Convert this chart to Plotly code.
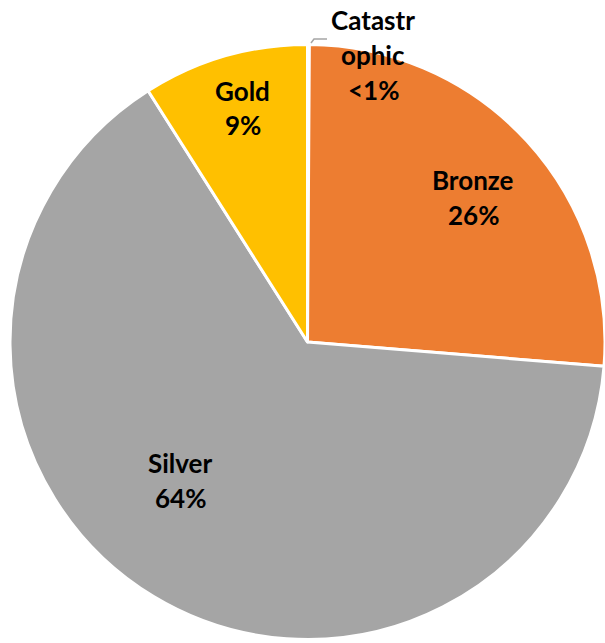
import plotly.graph_objects as go

# Data
categories = ["Catastrophic", "Bronze", "Silver", "Gold"]
values = [0.1, 26.2, 64.7, 9.0]
label_texts = ["Catastr<br>ophic<br><1%", "Bronze<br>26%", "Silver<br>64%", "Gold<br>9%"]
colors = ["#4472C4", "#ED7D31", "#A5A5A5", "#FFC000"]

W, H = 605, 643
cx, cy, r = 307.5, 342, 297.5

fig = go.Figure(go.Pie(
    labels=categories,
    values=values,
    sort=False,
    direction="clockwise",
    rotation=0,
    marker=dict(colors=colors, line=dict(color="white", width=3)),
    textinfo="none",
    hoverinfo="label+percent",
    showlegend=False,
    domain=dict(x=[(cx - r) / W, (cx + r) / W], y=[(H - cy - r) / H, (H - cy + r) / H]),
))

# label placement (pixel centres of the text blocks), one annotation per line
label_pos = [(373, 55), (473, 197), (180, 480), (243, 108)]
line_gap = 35
for txt, (px, py) in zip(label_texts, label_pos):
    lines = txt.split("<br>")
    n = len(lines)
    for i, ln in enumerate(lines):
        ly = py + (i - (n - 1) / 2) * line_gap
        fig.add_annotation(
            x=px / W, y=1 - ly / H, xref="paper", yref="paper",
            text=f"<b>{ln}</b>", showarrow=False,
            xanchor="center", yanchor="middle", align="center",
            font=dict(family="Lato", size=26, color="black"),
        )

# leader line for the tiny slice
fig.add_shape(
    type="path", xref="paper", yref="paper",
    path=f"M {311/W} {1-43/H} L {314/W} {1-39/H} L {327/W} {1-39/H}",
    line=dict(color="#A5A5A5", width=1.5),
)

fig.update_layout(
    width=W, height=H,
    margin=dict(l=0, r=0, t=0, b=0),
    paper_bgcolor="white", plot_bgcolor="white",
)

fig.write_html("out.html")
